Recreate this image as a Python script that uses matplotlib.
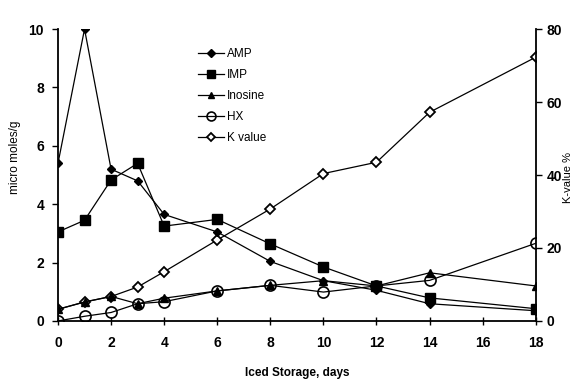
import matplotlib
matplotlib.use("Agg")
import matplotlib.pyplot as plt

# data
days = [0, 1, 2, 3, 4, 6, 8, 10, 12, 14, 18]
amp = [5.4, 10.0, 5.2, 4.8, 3.65, 3.05, 2.04, 1.38, 1.05, 0.59, 0.35]
imp = [3.05, 3.45, 4.83, 5.4, 3.25, 3.48, 2.64, 1.85, 1.2, 0.79, 0.42]
inosine = [0.4, 0.65, 0.84, 0.59, 0.78, 1.03, 1.22, 1.38, 1.2, 1.65, 1.2]
hx = [0.0, 0.16, 0.29, 0.59, 0.66, 1.03, 1.22, 0.99, 1.2, 1.39, 2.66]
k_value = [3.2, 5.2, 6.7, 9.3, 13.5, 22.2, 30.7, 40.4, 43.5, 57.2, 72.3]

plt.rcParams['font.family'] = ['Liberation Sans', 'DejaVu Sans']

fig = plt.figure(figsize=(5.77, 3.83), dpi=100)
ax = fig.add_axes([0.1005, 0.162, 0.828, 0.762])
ax2 = ax.twinx()

lw = 0.9
# K value first so the filled markers sit on top of it
k_line, = ax2.plot(days, k_value, color='black', lw=lw, marker='D', ms=5,
                   mfc='white', mec='black', mew=1.3, label='K value', zorder=2)
a_line, = ax.plot(days, amp, color='black', lw=lw, marker='D', ms=4.5,
                  mfc='black', mec='black', label='AMP', zorder=3)
i_line, = ax.plot(days, imp, color='black', lw=lw, marker='s', ms=6.5,
                  mfc='black', mec='black', label='IMP', zorder=3)
n_line, = ax.plot(days, inosine, color='black', lw=lw, marker='^', ms=6,
                  mfc='black', mec='black', label='Inosine', zorder=3)
h_line, = ax.plot(days, hx, color='black', lw=lw, marker='o', ms=8,
                  mfc='none', mec='black', mew=1.2, label='HX', zorder=4)

ax.set_zorder(ax2.get_zorder() + 1)
ax.patch.set_visible(False)

ax.set_xlim(0, 18)
ax.set_ylim(0, 10)
ax2.set_ylim(0, 80)
ax.set_xticks(range(0, 19, 2))
ax.set_yticks(range(0, 11, 2))
ax2.set_yticks(range(0, 81, 20))

for a in (ax, ax2):
    a.spines['top'].set_visible(False)
    for s in a.spines.values():
        s.set_linewidth(1.3)
ax.spines['right'].set_visible(False)
ax2.spines['left'].set_visible(False)
ax2.spines['bottom'].set_visible(False)

ax.tick_params(axis='x', direction='inout', length=6, width=1, pad=8, labelsize=10)
ax.tick_params(axis='y', direction='out', length=4, width=1, pad=6, labelsize=10)
ax2.tick_params(axis='y', direction='out', length=4, width=1, pad=4, labelsize=10)
for lab in ax.get_xticklabels() + ax.get_yticklabels() + ax2.get_yticklabels():
    lab.set_fontweight('bold')

ax.set_xlabel("Iced Storage, days", fontsize=8.5, fontweight='bold', labelpad=12)
ax.set_ylabel("micro moles/g", fontsize=8.5)
ax.yaxis.set_label_coords(-0.078, 0.56)
ax2.set_ylabel("K-value %", fontsize=8, rotation=90)
ax2.yaxis.set_label_coords(1.058, 0.49)

leg = ax.legend(handles=[a_line, i_line, n_line, h_line, k_line],
                loc='upper left', bbox_to_anchor=(0.27, 0.97), frameon=False,
                fontsize=8.5, handlelength=2.2, labelspacing=0.75,
                handletextpad=0.3, markerscale=0.8)

plt.savefig("out.png", dpi=100)
